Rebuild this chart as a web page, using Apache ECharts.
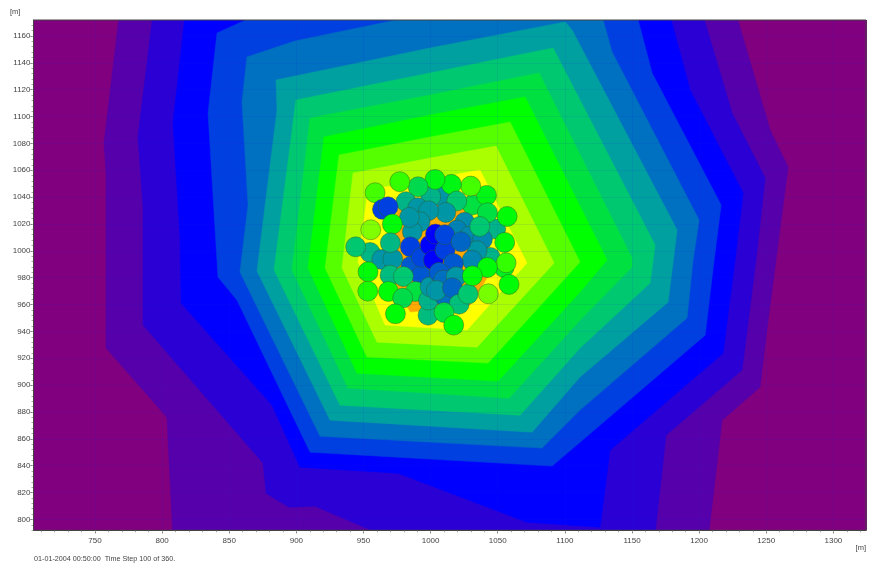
<!DOCTYPE html>
<html><head><meta charset="utf-8">
<style>html,body{margin:0;padding:0;background:#fff}#c{width:870px;height:564px;filter:blur(0.35px)}</style>
<script src="https://cdn.jsdelivr.net/npm/echarts@6/dist/echarts.min.js"></script>
</head><body><div id="c"></div>
<script>
const xMin=704.2,xMax=1324.3,yMin=791.9,yMax=1171.9;
const xTicks=[750,800,850,900,950,1000,1050,1100,1150,1200,1250,1300];
const yTicks=[800,820,840,860,880,900,920,940,960,980,1000,1020,1040,1060,1080,1100,1120,1140,1160];
const xMinorTicks=[710,720,730,740,750,760,770,780,790,800,810,820,830,840,850,860,870,880,890,900,910,920,930,940,950,960,970,980,990,1000,1010,1020,1030,1040,1050,1060,1070,1080,1090,1100,1110,1120,1130,1140,1150,1160,1170,1180,1190,1200,1210,1220,1230,1240,1250,1260,1270,1280,1290,1300,1310,1320];
const yMinorTicks=[792,796,800,804,808,812,816,820,824,828,832,836,840,844,848,852,856,860,864,868,872,876,880,884,888,892,896,900,904,908,912,916,920,924,928,932,936,940,944,948,952,956,960,964,968,972,976,980,984,988,992,996,1000,1004,1008,1012,1016,1020,1024,1028,1032,1036,1040,1044,1048,1052,1056,1060,1064,1068,1072,1076,1080,1084,1088,1092,1096,1100,1104,1108,1112,1116,1120,1124,1128,1132,1136,1140,1144,1148,1152,1156,1160,1164,1168];
const contourLevels=[0,1,2,3,4,5,6,7,8,9,10,11,12,13];
const palette=['#800080','#5500aa','#2a00d5','#0000ff','#0040e0','#0070c0','#00a0a0','#00c870','#00e040','#00ff00','#55ff00','#aaff00','#ffff00','#ffaa00'];

const contour0=[[700,1180],[1330,1180],[1330,785],[700,785]];
const contour1=[[768,1175],[756.7,1080.3],[758.2,1057.9],[758.2,927.6],[802.2,877.6],[803.6,875.4],[808,788],[1207,788],[1217.1,873.9],[1245.4,898.5],[1251.4,948.4],[1266.3,1062.4],[1252.9,1090],[1228,1175]];
const contour2=[[793,1175],[782,1084.8],[785.8,1032.6],[785.8,944.7],[875.2,841.9],[877.4,819.5],[894.5,809.1],[913.9,809.9],[965,788],[1167,788],[1175.4,862.7],[1232,911.2],[1242.4,993.1],[1249.2,1054.2],[1224.6,1102.6],[1203,1175]];
const contour3=[[817,1175],[808.1,1095.2],[813.3,1010.3],[814.1,961.1],[881.9,885.1],[902.7,838.9],[975.7,834.4],[1071.8,797.9],[1126.2,794.2],[1133.7,851.6],[1217.9,923.8],[1226.8,993.1],[1232.8,1043],[1193.3,1119.8],[1178.4,1175]];
const contour4=[[869,1175],[840.9,1162.2],[834.2,1102.6],[841.6,980.5],[855.8,963.3],[910.2,850.1],[1090.5,839.7],[1111.3,857.5],[1204.5,937.2],[1211.2,993.1],[1216.4,1034.1],[1165,1132.4],[1153.8,1175]];
const contour5=[[863.2,1144.4],[899,1156.3],[975,1172],[1128.5,1172],[1135.2,1148.1],[1200,1022.9],[1195.5,993.1],[1191,949.9],[1111.3,881.4],[1083,853.1],[917.6,862],[858,984.2],[864,1034.1],[859.5,1110.8]];
const contour6=[[884.8,1127.2],[999.6,1151.1],[1100.2,1170.4],[1105.4,1164.5],[1183.6,1015.5],[1176.9,961.8],[1111.3,906],[1075.6,865],[925.1,873.9],[870.7,984.9],[878.1,1045.3],[885.6,1104.9]];
const contour7=[[899.7,1112.3],[999.6,1132.4],[1091.2,1151.1],[1167.2,1004.3],[1163.5,976],[1111.3,927.6],[1066.6,877.6],[932.5,885.1],[883.4,985.7]];
const contour8=[[910.2,1098.9],[999.6,1116],[1080.8,1132.4],[1150,994.6],[1150,987.9],[1111.3,948.4],[1058.4,890.3],[938.5,897.8],[896.8,985.7]];
const contour9=[[920.6,1084.8],[999.6,1101.1],[1070.4,1114.6],[1131.4,993.1],[1111.3,969.3],[1050.2,903],[945.2,908.9],[908.7,987.2]];
const contour10=[[931.8,1071.3],[999.6,1084.8],[1059.2,1095.9],[1111.3,991.6],[1042.8,916.4],[952.6,920.9],[921.4,987.2]];
const contour11=[[942.2,1057.9],[999.6,1069.1],[1048.7,1078],[1092,990.9],[1034.6,928.3],[960.1,932],[934,987.2]];
const contour12=[[953.4,1045.3],[1036.8,1060.2],[1071.8,990.9],[1027.1,941],[966.1,944.7],[945.9,991.6]];
const contour13=[[977.2,1034.1],[1023.4,1034.1],[1049.5,991.6],[1029.4,959.6],[985,954.4],[960.8,993.1]];
const contours=[contour0,contour1,contour2,contour3,contour4,contour5,contour6,contour7,contour8,contour9,contour10,contour11,contour12,contour13];

const agentX=[1008.8,1000.1,981.7,1031.1,1041.6,1029.9,1015.5,1003.3,990.7,977,958.6,1019.5,990.4,964.1,968.3,1048.5,1042.3,1057,1011.3,998.4,992.1,986.4,984.2,971.5,955.4,1025.4,1019.7,1028.9,1038.6,1036.6,1055.2,1044.5,1034.6,1030.9,1054.7,1056.2,1042.3,1058.4,1043,954.9,944.2,963.6,971.8,970,953.4,953.2,969.8,984.9,985.4,993.1,993.1,999.6,1003.6,1002.1,1010.8,1017,1010.5,1022.7,979.7,968.6,988.7,979.2,973.8,998.1,998.4,999.6,1006.3,1009.5,1019,1010.8,1004.3,1016.2,1021.2,1010,1017.2,1027.9,1031.1];
const agentY=[1040.3,1040.3,1036.6,1034.1,1041.3,1048.2,1049.5,1053.2,1047.7,1051.5,1043.3,1037.1,1032.1,1030.9,1032.8,1016.2,1028.4,1025.6,1028.6,1029.9,1021.7,1014.2,1024.9,1019.9,1015.7,1021.2,1015.5,1011,1008.5,1018.2,1006.3,995.1,1000.1,993.1,987.6,991.1,987.6,975,968,998.8,1003,993.6,993.9,1006,984.4,970,981.9,1003,988.6,981.4,995.1,1004.3,1012.5,993.1,1000.6,990.6,1012,1006.8,980.9,969.8,969.8,964.8,953.1,952.1,963.3,973.2,983.9,978.2,980.7,965.8,970.5,972.5,960.3,954.1,944.7,967.8,981.4];
const agentLevel=[5.8,6.5,6.5,8,8.7,9.8,8.7,8.7,7.7,9.6,9.8,7,5.8,4,4,6.5,8,8.9,5.8,5.8,5.8,5.8,5.8,8.9,10.5,5.6,5.4,5.5,5.5,7,8.9,6.5,5.8,5.5,8.5,9.6,8.9,8.9,10.4,6.6,7,5.8,5.8,6.6,8.9,9.3,6.7,4,4.5,4.5,4.1,3,3,3,4,4.5,4.1,4.8,7,8.9,8,7.8,8.9,6.7,6.5,5.8,4.6,5,5.8,5,5.8,4.8,6.8,8,8.9,7,8.9];

const footerText='01-01-2004 00:50:00  Time Step 100 of 360.';
const unitText='[m]';

const chart=echarts.init(document.getElementById('c'),null,{renderer:'canvas'});
const gridLine={show:true,lineStyle:{color:'rgba(30,30,220,0.09)',width:1,type:'solid'}};
const labelStyle={color:'#444',fontSize:8,fontFamily:'Liberation Sans',formatter:v=>String(v)};
chart.setOption({
  animation:false,
  backgroundColor:'#fff',
  grid:{left:33.5,right:4,top:20,bottom:33.7,show:true,borderColor:'#444',borderWidth:1,z:10,backgroundColor:'transparent'},
  visualMap:{show:false,seriesIndex:1,dimension:2,min:0,max:13,inRange:{color:palette}},
  xAxis:[
    {type:'value',min:xMin,max:xMax,position:'bottom',z:9,axisLine:{show:true,lineStyle:{color:'#444'}},
     axisTick:{show:true,length:3,customValues:xTicks,lineStyle:{color:'#666'}},
     axisLabel:{show:true,customValues:xTicks,margin:6,...labelStyle},splitLine:gridLine},
    {type:'value',min:xMin,max:xMax,position:'bottom',z:9,axisLine:{show:false},
     axisTick:{show:true,length:2,customValues:xMinorTicks,lineStyle:{color:'#aaa'}},
     axisLabel:{show:false},splitLine:{show:false}}
  ],
  yAxis:[
    {type:'value',min:yMin,max:yMax,position:'left',z:9,axisLine:{show:true,lineStyle:{color:'#444'}},
     axisTick:{show:true,length:3,customValues:yTicks,lineStyle:{color:'#666'}},
     axisLabel:{show:true,customValues:yTicks,margin:3,...labelStyle},splitLine:gridLine},
    {type:'value',min:yMin,max:yMax,position:'left',z:9,axisLine:{show:false},
     axisTick:{show:true,length:2,customValues:yMinorTicks,lineStyle:{color:'#aaa'}},
     axisLabel:{show:false},splitLine:{show:false}}
  ],
  series:[
    {type:'custom',coordinateSystem:'cartesian2d',clip:true,silent:true,z:2,
     data:contourLevels.map(v=>[v]),
     encode:{x:-1,y:-1},
     renderItem:function(params,api){
       const i=api.value(0);
       return {type:'polygon',shape:{points:contours[i].map(p=>api.coord(p))},
         style:{fill:palette[i],stroke:palette[i],lineWidth:0.5}};
     }},
    {type:'scatter',z:3,symbol:'circle',symbolSize:20,silent:true,clip:true,
     data:agentX.map((x,i)=>[x,agentY[i],agentLevel[i]]),
     itemStyle:{borderColor:'rgba(50,90,40,0.55)',borderWidth:0.8,opacity:1}}
  ],
  graphic:[
    {type:'text',left:10,top:8,silent:true,style:{text:unitText,fill:'#444',font:'7.5px "Liberation Sans"'}},
    {type:'text',right:4,top:544,silent:true,style:{text:unitText,fill:'#444',font:'7.5px "Liberation Sans"'}},
    {type:'text',left:34,top:555.5,silent:true,style:{text:footerText,fill:'#444',font:'7.2px "Liberation Sans"'}}
  ]
});
</script></body></html>
